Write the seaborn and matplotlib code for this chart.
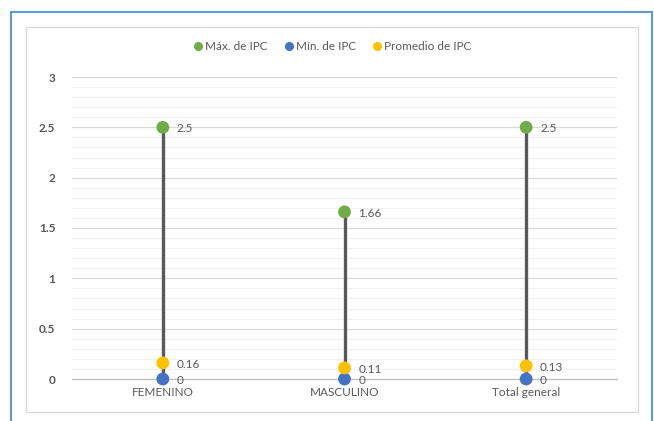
import matplotlib
matplotlib.use("Agg")
import matplotlib.pyplot as plt
from matplotlib.patches import Rectangle
from matplotlib.lines import Line2D
from matplotlib.ticker import MultipleLocator
import seaborn as sns
import pandas as pd

categories = ["FEMENINO", "MASCULINO", "Total general"]
max_ipc = [2.5, 1.66, 2.5]
min_ipc = [0, 0, 0]
avg_ipc = [0.16, 0.11, 0.13]
series_names = ["Máx. de IPC", "Mín. de IPC", "Promedio de IPC"]
y_ticks = [0, 0.5, 1, 1.5, 2, 2.5, 3]

colors = {"Máx. de IPC": "#70AD47", "Mín. de IPC": "#4472C4", "Promedio de IPC": "#FFC000"}
text_color = "#595959"

sns.set_theme(style="white")
plt.rcParams["font.family"] = ["Lato", "DejaVu Sans"]

df = pd.concat([
    pd.DataFrame({"cat": categories, "val": max_ipc, "serie": series_names[0]}),
    pd.DataFrame({"cat": categories, "val": min_ipc, "serie": series_names[1]}),
    pd.DataFrame({"cat": categories, "val": avg_ipc, "serie": series_names[2]}),
])

fig = plt.figure(figsize=(6.54, 4.21), dpi=100)
fig.patch.set_facecolor("white")

# outer frame (runs past the bottom edge) and inner chart area
fig.add_artist(Rectangle((11 / 654, -0.05), 641 / 654, 1.05 - 12 / 421, transform=fig.transFigure,
                         fill=False, edgecolor="#5B9BD5", lw=1.5))
fig.add_artist(Rectangle((26 / 654, 1 - 412 / 421), 612 / 654, 385 / 421, transform=fig.transFigure,
                         fill=False, edgecolor="#D9D9D9", lw=1.0))

ax = fig.add_axes([72 / 654, 1 - 379 / 421, 545 / 654, 302 / 421])

# stems from min to max
xpos = list(range(len(categories)))
ax.vlines(xpos, min_ipc, max_ipc, color="#595959", lw=2.4, zorder=2)

sns.scatterplot(data=df, x="cat", y="val", hue="serie", palette=colors, s=85,
                edgecolor="none", ax=ax, zorder=3, legend=False)
for c in ax.collections:
    c.set_clip_on(False)

# value labels
for vals in (max_ipc, min_ipc, avg_ipc):
    for x, v in zip(xpos, vals):
        ax.annotate(f"{v:g}", (x, v), xytext=(10, -1), textcoords="offset points",
                    ha="left", va="center", fontsize=8.5, color=text_color)

ax.set_xlim(-0.5, 2.5)
ax.set_ylim(0, 3)
ax.set_yticks(y_ticks)
ax.set_yticklabels([f"{t:g}" for t in y_ticks], fontsize=8.5, color=text_color, fontweight="bold")
ax.yaxis.set_minor_locator(MultipleLocator(0.1))
ax.grid(axis="y", which="major", color="#D9D9D9", lw=0.9)
ax.grid(axis="y", which="minor", color="#F2F2F2", lw=0.9)
ax.set_axisbelow(True)
ax.set_xticks(xpos)
ax.set_xticklabels(categories, fontsize=8.5, color=text_color)
ax.tick_params(axis="both", which="both", length=0, pad=6)
ax.tick_params(axis="y", pad=12)
ax.set_xlabel("")
ax.set_ylabel("")
for s in ["top", "right", "left"]:
    ax.spines[s].set_visible(False)
ax.spines["bottom"].set_color("#BFBFBF")
ax.spines["bottom"].set_linewidth(0.9)

handles = [Line2D([], [], marker="o", ls="none", color=colors[n], markersize=5.5) for n in series_names]
fig.legend(handles, series_names, loc="center", bbox_to_anchor=(0.507, 1 - 47 / 421), ncol=3,
           frameon=False, fontsize=8.5, labelcolor=text_color, handletextpad=0.1,
           columnspacing=1.3, handlelength=1.0)

fig.savefig("out.png", dpi=100, facecolor="white")
